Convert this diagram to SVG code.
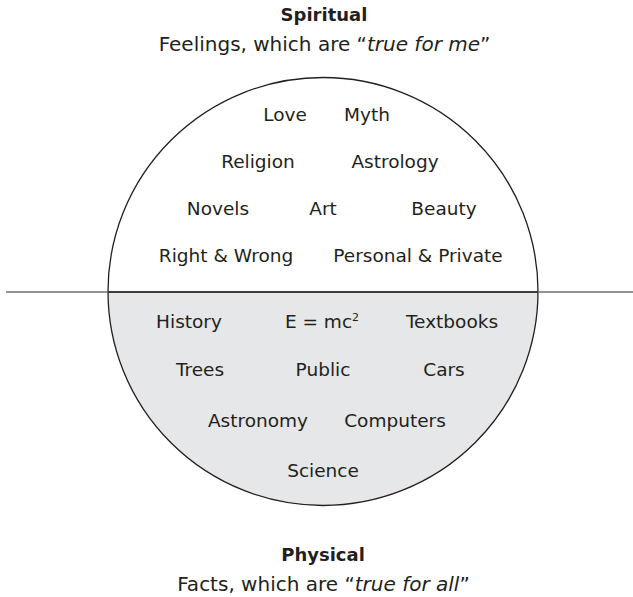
<svg xmlns="http://www.w3.org/2000/svg" width="633" height="597" viewBox="0 0 633 597">
  <style>
    text { font-family: "DejaVu Sans", "Liberation Sans", sans-serif; fill: #231f20; text-anchor: middle; }
    .item { font-size: 18.5px; }
    .head { font-size: 18px; font-weight: bold; }
    .sub { font-size: 20px; }
  </style>
  <rect width="633" height="597" fill="#ffffff"/>

  <!-- circle: upper half open, lower half shaded -->
  <g id="circle">
    <path d="M108,291.5 A215,214 0 0 0 538,291.5 Z" fill="#e6e7e8"/>
    <ellipse cx="323" cy="291.5" rx="215" ry="214" fill="none" stroke="#231f20" stroke-width="1.3"/>
  </g>

  <!-- dividing line -->
  <g id="divider">
    <line x1="6" y1="292" x2="633" y2="292" stroke="#6d6e70" stroke-width="1.6"/>
    <line x1="108" y1="292" x2="538" y2="292" stroke="#231f20" stroke-width="1.6"/>
  </g>

  <g id="spiritual">
    <text class="head" x="324" y="21">Spiritual</text>
    <text class="sub" x="324.5" y="51">Feelings, which are “<tspan font-style="italic">true for me</tspan>”</text>
  </g>

  <g id="upper-items">
    <text class="item" x="285" y="121">Love</text>
    <text class="item" x="367" y="121">Myth</text>
    <text class="item" x="258" y="167.5">Religion</text>
    <text class="item" x="395" y="167.5">Astrology</text>
    <text class="item" x="218" y="215">Novels</text>
    <text class="item" x="323" y="215">Art</text>
    <text class="item" x="444" y="215">Beauty</text>
    <text class="item" x="226" y="262">Right &amp; Wrong</text>
    <text class="item" x="418" y="262">Personal &amp; Private</text>
  </g>

  <g id="lower-items">
    <text class="item" x="189" y="327.5">History</text>
    <text class="item" x="322" y="327.5">E = mc<tspan font-size="11" dy="-7">2</tspan></text>
    <text class="item" x="452" y="327.5">Textbooks</text>
    <text class="item" x="200" y="375.5">Trees</text>
    <text class="item" x="323" y="375.5">Public</text>
    <text class="item" x="444" y="375.5">Cars</text>
    <text class="item" x="258" y="426.5">Astronomy</text>
    <text class="item" x="395" y="426.5">Computers</text>
    <text class="item" x="323" y="476.5">Science</text>
  </g>

  <g id="physical">
    <text class="head" x="323" y="561">Physical</text>
    <text class="sub" x="323.5" y="591">Facts, which are “<tspan font-style="italic">true for all</tspan>”</text>
  </g>
</svg>
